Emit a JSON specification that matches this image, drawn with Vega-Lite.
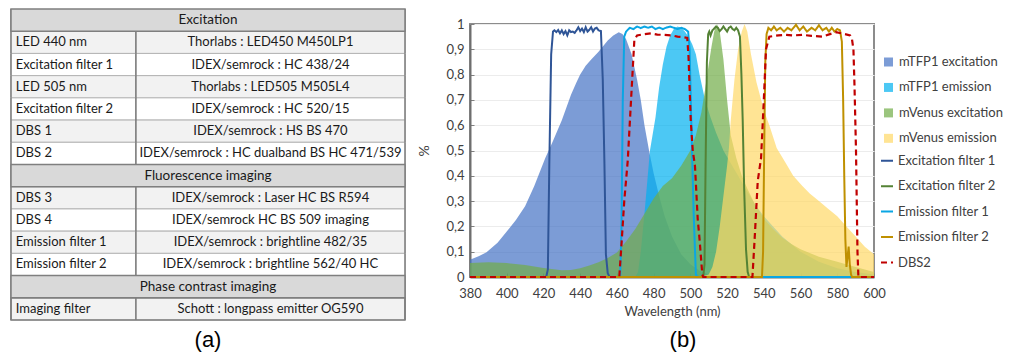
{
  "$schema": "https://vega.github.io/schema/vega-lite/v6.json",
  "background": "white",
  "padding": {"left": 10, "top": 8, "right": 0, "bottom": 0},
  "config": {
    "font": "Lato",
    "concat": {"spacing": 10},
    "title": {"font": "Liberation Sans", "fontWeight": "normal", "color": "#000000"}
  },
  "datasets": {
    "table": [
      {"row": 1, "kind": "header", "section": "Excitation", "item": "Excitation", "product": ""},
      {"row": 2, "kind": "item", "section": "Excitation", "item": "LED 440 nm", "product": "Thorlabs : LED450 M450LP1"},
      {"row": 3, "kind": "item", "section": "Excitation", "item": "Excitation filter 1", "product": "IDEX/semrock : HC 438/24"},
      {"row": 4, "kind": "item", "section": "Excitation", "item": "LED 505 nm", "product": "Thorlabs : LED505 M505L4"},
      {"row": 5, "kind": "item", "section": "Excitation", "item": "Excitation filter 2", "product": "IDEX/semrock  : HC 520/15"},
      {"row": 6, "kind": "item", "section": "Excitation", "item": "DBS 1", "product": "IDEX/semrock : HS BS 470"},
      {"row": 7, "kind": "item", "section": "Excitation", "item": "DBS 2", "product": "IDEX/semrock : HC dualband BS HC 471/539"},
      {"row": 8, "kind": "header", "section": "Fluorescence imaging", "item": "Fluorescence imaging", "product": ""},
      {"row": 9, "kind": "item", "section": "Fluorescence imaging", "item": "DBS 3", "product": "IDEX/semrock : Laser HC BS R594"},
      {"row": 10, "kind": "item", "section": "Fluorescence imaging", "item": "DBS 4", "product": "IDEX/semrock  HC BS 509 imaging"},
      {"row": 11, "kind": "item", "section": "Fluorescence imaging", "item": "Emission filter 1", "product": "IDEX/semrock : brightline 482/35"},
      {"row": 12, "kind": "item", "section": "Fluorescence imaging", "item": "Emission filter 2", "product": "IDEX/semrock : brightline 562/40 HC"},
      {"row": 13, "kind": "header", "section": "Phase contrast imaging", "item": "Phase contrast imaging", "product": ""},
      {"row": 14, "kind": "item", "section": "Phase contrast imaging", "item": "Imaging filter", "product": "Schott : longpass emitter OG590"}
    ],
    "spectra": [
      {"series": "mTFP1 excitation", "wl": 380, "value": 0.068},
      {"series": "mTFP1 excitation", "wl": 385, "value": 0.083},
      {"series": "mTFP1 excitation", "wl": 389, "value": 0.098},
      {"series": "mTFP1 excitation", "wl": 395, "value": 0.135},
      {"series": "mTFP1 excitation", "wl": 400, "value": 0.18},
      {"series": "mTFP1 excitation", "wl": 405, "value": 0.225},
      {"series": "mTFP1 excitation", "wl": 410, "value": 0.28},
      {"series": "mTFP1 excitation", "wl": 415, "value": 0.36},
      {"series": "mTFP1 excitation", "wl": 421, "value": 0.47},
      {"series": "mTFP1 excitation", "wl": 425, "value": 0.535},
      {"series": "mTFP1 excitation", "wl": 430, "value": 0.62},
      {"series": "mTFP1 excitation", "wl": 435, "value": 0.72},
      {"series": "mTFP1 excitation", "wl": 438, "value": 0.77},
      {"series": "mTFP1 excitation", "wl": 440, "value": 0.8},
      {"series": "mTFP1 excitation", "wl": 443, "value": 0.835},
      {"series": "mTFP1 excitation", "wl": 446, "value": 0.86},
      {"series": "mTFP1 excitation", "wl": 450, "value": 0.89},
      {"series": "mTFP1 excitation", "wl": 455, "value": 0.935},
      {"series": "mTFP1 excitation", "wl": 458, "value": 0.955},
      {"series": "mTFP1 excitation", "wl": 461, "value": 0.967},
      {"series": "mTFP1 excitation", "wl": 463, "value": 0.96},
      {"series": "mTFP1 excitation", "wl": 465, "value": 0.94},
      {"series": "mTFP1 excitation", "wl": 468, "value": 0.88},
      {"series": "mTFP1 excitation", "wl": 471, "value": 0.78},
      {"series": "mTFP1 excitation", "wl": 473, "value": 0.7},
      {"series": "mTFP1 excitation", "wl": 475, "value": 0.6},
      {"series": "mTFP1 excitation", "wl": 477.5, "value": 0.5},
      {"series": "mTFP1 excitation", "wl": 480, "value": 0.41},
      {"series": "mTFP1 excitation", "wl": 483, "value": 0.32},
      {"series": "mTFP1 excitation", "wl": 486, "value": 0.24},
      {"series": "mTFP1 excitation", "wl": 490, "value": 0.16},
      {"series": "mTFP1 excitation", "wl": 495, "value": 0.09},
      {"series": "mTFP1 excitation", "wl": 500, "value": 0.05},
      {"series": "mTFP1 excitation", "wl": 505, "value": 0.025},
      {"series": "mTFP1 excitation", "wl": 510, "value": 0.01},
      {"series": "mTFP1 excitation", "wl": 520, "value": 0},
      {"series": "mTFP1 excitation", "wl": 600, "value": 0},

      {"series": "mTFP1 emission", "wl": 380, "value": 0},
      {"series": "mTFP1 emission", "wl": 470, "value": 0},
      {"series": "mTFP1 emission", "wl": 471.5, "value": 0.02},
      {"series": "mTFP1 emission", "wl": 473, "value": 0.1},
      {"series": "mTFP1 emission", "wl": 475, "value": 0.25},
      {"series": "mTFP1 emission", "wl": 478, "value": 0.5},
      {"series": "mTFP1 emission", "wl": 481, "value": 0.63},
      {"series": "mTFP1 emission", "wl": 483, "value": 0.75},
      {"series": "mTFP1 emission", "wl": 485, "value": 0.84},
      {"series": "mTFP1 emission", "wl": 487, "value": 0.91},
      {"series": "mTFP1 emission", "wl": 489, "value": 0.955},
      {"series": "mTFP1 emission", "wl": 491, "value": 0.98},
      {"series": "mTFP1 emission", "wl": 493, "value": 0.99},
      {"series": "mTFP1 emission", "wl": 495, "value": 0.985},
      {"series": "mTFP1 emission", "wl": 497, "value": 0.97},
      {"series": "mTFP1 emission", "wl": 499, "value": 0.95},
      {"series": "mTFP1 emission", "wl": 501, "value": 0.92},
      {"series": "mTFP1 emission", "wl": 503, "value": 0.88},
      {"series": "mTFP1 emission", "wl": 505, "value": 0.8},
      {"series": "mTFP1 emission", "wl": 508, "value": 0.7},
      {"series": "mTFP1 emission", "wl": 511, "value": 0.63},
      {"series": "mTFP1 emission", "wl": 514, "value": 0.57},
      {"series": "mTFP1 emission", "wl": 518, "value": 0.5},
      {"series": "mTFP1 emission", "wl": 522, "value": 0.45},
      {"series": "mTFP1 emission", "wl": 526, "value": 0.4},
      {"series": "mTFP1 emission", "wl": 530, "value": 0.35},
      {"series": "mTFP1 emission", "wl": 535, "value": 0.29},
      {"series": "mTFP1 emission", "wl": 540, "value": 0.24},
      {"series": "mTFP1 emission", "wl": 550, "value": 0.16},
      {"series": "mTFP1 emission", "wl": 560, "value": 0.1},
      {"series": "mTFP1 emission", "wl": 570, "value": 0.06},
      {"series": "mTFP1 emission", "wl": 580, "value": 0.035},
      {"series": "mTFP1 emission", "wl": 590, "value": 0.02},
      {"series": "mTFP1 emission", "wl": 600, "value": 0.01},

      {"series": "mVenus excitation", "wl": 380, "value": 0.055},
      {"series": "mVenus excitation", "wl": 390, "value": 0.058},
      {"series": "mVenus excitation", "wl": 400, "value": 0.055},
      {"series": "mVenus excitation", "wl": 410, "value": 0.047},
      {"series": "mVenus excitation", "wl": 420, "value": 0.036},
      {"series": "mVenus excitation", "wl": 430, "value": 0.027},
      {"series": "mVenus excitation", "wl": 435, "value": 0.028},
      {"series": "mVenus excitation", "wl": 440, "value": 0.035},
      {"series": "mVenus excitation", "wl": 445, "value": 0.045},
      {"series": "mVenus excitation", "wl": 450, "value": 0.058},
      {"series": "mVenus excitation", "wl": 455, "value": 0.075},
      {"series": "mVenus excitation", "wl": 460, "value": 0.097},
      {"series": "mVenus excitation", "wl": 465, "value": 0.14},
      {"series": "mVenus excitation", "wl": 470, "value": 0.19},
      {"series": "mVenus excitation", "wl": 475, "value": 0.25},
      {"series": "mVenus excitation", "wl": 480, "value": 0.31},
      {"series": "mVenus excitation", "wl": 485, "value": 0.36},
      {"series": "mVenus excitation", "wl": 490, "value": 0.39},
      {"series": "mVenus excitation", "wl": 495, "value": 0.44},
      {"series": "mVenus excitation", "wl": 500, "value": 0.5},
      {"series": "mVenus excitation", "wl": 503, "value": 0.56},
      {"series": "mVenus excitation", "wl": 506, "value": 0.65},
      {"series": "mVenus excitation", "wl": 508, "value": 0.74},
      {"series": "mVenus excitation", "wl": 510, "value": 0.84},
      {"series": "mVenus excitation", "wl": 511.5, "value": 0.91},
      {"series": "mVenus excitation", "wl": 513, "value": 0.97},
      {"series": "mVenus excitation", "wl": 514.5, "value": 1.0},
      {"series": "mVenus excitation", "wl": 516, "value": 0.97},
      {"series": "mVenus excitation", "wl": 518, "value": 0.86},
      {"series": "mVenus excitation", "wl": 520, "value": 0.7},
      {"series": "mVenus excitation", "wl": 522, "value": 0.56},
      {"series": "mVenus excitation", "wl": 525, "value": 0.47},
      {"series": "mVenus excitation", "wl": 528, "value": 0.4},
      {"series": "mVenus excitation", "wl": 531, "value": 0.35},
      {"series": "mVenus excitation", "wl": 535, "value": 0.29},
      {"series": "mVenus excitation", "wl": 540, "value": 0.23},
      {"series": "mVenus excitation", "wl": 545, "value": 0.19},
      {"series": "mVenus excitation", "wl": 550, "value": 0.155},
      {"series": "mVenus excitation", "wl": 555, "value": 0.13},
      {"series": "mVenus excitation", "wl": 560, "value": 0.11},
      {"series": "mVenus excitation", "wl": 570, "value": 0.08},
      {"series": "mVenus excitation", "wl": 580, "value": 0.06},
      {"series": "mVenus excitation", "wl": 590, "value": 0.04},
      {"series": "mVenus excitation", "wl": 600, "value": 0.02},

      {"series": "mVenus emission", "wl": 380, "value": 0},
      {"series": "mVenus emission", "wl": 505, "value": 0},
      {"series": "mVenus emission", "wl": 510, "value": 0.01},
      {"series": "mVenus emission", "wl": 512, "value": 0.04},
      {"series": "mVenus emission", "wl": 514, "value": 0.1},
      {"series": "mVenus emission", "wl": 516, "value": 0.2},
      {"series": "mVenus emission", "wl": 518, "value": 0.32},
      {"series": "mVenus emission", "wl": 520, "value": 0.44},
      {"series": "mVenus emission", "wl": 521, "value": 0.51},
      {"series": "mVenus emission", "wl": 522, "value": 0.62},
      {"series": "mVenus emission", "wl": 524, "value": 0.78},
      {"series": "mVenus emission", "wl": 526, "value": 0.9},
      {"series": "mVenus emission", "wl": 528, "value": 0.97},
      {"series": "mVenus emission", "wl": 529.5, "value": 1.0},
      {"series": "mVenus emission", "wl": 531, "value": 0.97},
      {"series": "mVenus emission", "wl": 533, "value": 0.88},
      {"series": "mVenus emission", "wl": 536, "value": 0.77},
      {"series": "mVenus emission", "wl": 540, "value": 0.66},
      {"series": "mVenus emission", "wl": 543, "value": 0.6},
      {"series": "mVenus emission", "wl": 547, "value": 0.51},
      {"series": "mVenus emission", "wl": 552, "value": 0.45},
      {"series": "mVenus emission", "wl": 556, "value": 0.4},
      {"series": "mVenus emission", "wl": 561, "value": 0.36},
      {"series": "mVenus emission", "wl": 565, "value": 0.33},
      {"series": "mVenus emission", "wl": 570, "value": 0.3},
      {"series": "mVenus emission", "wl": 575, "value": 0.27},
      {"series": "mVenus emission", "wl": 580, "value": 0.24},
      {"series": "mVenus emission", "wl": 585, "value": 0.2},
      {"series": "mVenus emission", "wl": 590, "value": 0.16},
      {"series": "mVenus emission", "wl": 595, "value": 0.12},
      {"series": "mVenus emission", "wl": 600, "value": 0.09}
    ],
    "filters": [
      {"filter": "Excitation filter 1", "wl": 380, "value": 0},
      {"filter": "Excitation filter 1", "wl": 421.5, "value": 0},
      {"filter": "Excitation filter 1", "wl": 422.4, "value": 0.03},
      {"filter": "Excitation filter 1", "wl": 423.2, "value": 0.45},
      {"filter": "Excitation filter 1", "wl": 424.2, "value": 0.88},
      {"filter": "Excitation filter 1", "wl": 425.2, "value": 0.97},
      {"filter": "Excitation filter 1", "wl": 426, "value": 0.975},
      {"filter": "Excitation filter 1", "wl": 427, "value": 0.968},
      {"filter": "Excitation filter 1", "wl": 428, "value": 0.976},
      {"filter": "Excitation filter 1", "wl": 429, "value": 0.963},
      {"filter": "Excitation filter 1", "wl": 430, "value": 0.975},
      {"filter": "Excitation filter 1", "wl": 431, "value": 0.96},
      {"filter": "Excitation filter 1", "wl": 432, "value": 0.972},
      {"filter": "Excitation filter 1", "wl": 433, "value": 0.955},
      {"filter": "Excitation filter 1", "wl": 434, "value": 0.975},
      {"filter": "Excitation filter 1", "wl": 435, "value": 0.968},
      {"filter": "Excitation filter 1", "wl": 436, "value": 0.97},
      {"filter": "Excitation filter 1", "wl": 437, "value": 0.965},
      {"filter": "Excitation filter 1", "wl": 438, "value": 0.975},
      {"filter": "Excitation filter 1", "wl": 439, "value": 0.987},
      {"filter": "Excitation filter 1", "wl": 440, "value": 0.972},
      {"filter": "Excitation filter 1", "wl": 441, "value": 0.982},
      {"filter": "Excitation filter 1", "wl": 442, "value": 0.968},
      {"filter": "Excitation filter 1", "wl": 443, "value": 0.987},
      {"filter": "Excitation filter 1", "wl": 444, "value": 0.97},
      {"filter": "Excitation filter 1", "wl": 445, "value": 0.977},
      {"filter": "Excitation filter 1", "wl": 446, "value": 0.987},
      {"filter": "Excitation filter 1", "wl": 447, "value": 0.97},
      {"filter": "Excitation filter 1", "wl": 448, "value": 0.982},
      {"filter": "Excitation filter 1", "wl": 449, "value": 0.985},
      {"filter": "Excitation filter 1", "wl": 450, "value": 0.975},
      {"filter": "Excitation filter 1", "wl": 451.3, "value": 0.972},
      {"filter": "Excitation filter 1", "wl": 452.3, "value": 0.78},
      {"filter": "Excitation filter 1", "wl": 453.2, "value": 0.45},
      {"filter": "Excitation filter 1", "wl": 454, "value": 0.09},
      {"filter": "Excitation filter 1", "wl": 455, "value": 0.015},
      {"filter": "Excitation filter 1", "wl": 456, "value": 0},
      {"filter": "Excitation filter 1", "wl": 600, "value": 0},

      {"filter": "Excitation filter 2", "wl": 380, "value": 0},
      {"filter": "Excitation filter 2", "wl": 507, "value": 0},
      {"filter": "Excitation filter 2", "wl": 507.7, "value": 0.05},
      {"filter": "Excitation filter 2", "wl": 508.3, "value": 0.45},
      {"filter": "Excitation filter 2", "wl": 509, "value": 0.85},
      {"filter": "Excitation filter 2", "wl": 509.7, "value": 0.96},
      {"filter": "Excitation filter 2", "wl": 510.3, "value": 0.97},
      {"filter": "Excitation filter 2", "wl": 511, "value": 0.955},
      {"filter": "Excitation filter 2", "wl": 512, "value": 0.975},
      {"filter": "Excitation filter 2", "wl": 513, "value": 0.982},
      {"filter": "Excitation filter 2", "wl": 514, "value": 0.99},
      {"filter": "Excitation filter 2", "wl": 515, "value": 0.985},
      {"filter": "Excitation filter 2", "wl": 516, "value": 0.972},
      {"filter": "Excitation filter 2", "wl": 517, "value": 0.98},
      {"filter": "Excitation filter 2", "wl": 518, "value": 0.99},
      {"filter": "Excitation filter 2", "wl": 519, "value": 0.98},
      {"filter": "Excitation filter 2", "wl": 520, "value": 0.97},
      {"filter": "Excitation filter 2", "wl": 521, "value": 0.985},
      {"filter": "Excitation filter 2", "wl": 522, "value": 0.99},
      {"filter": "Excitation filter 2", "wl": 523, "value": 0.98},
      {"filter": "Excitation filter 2", "wl": 524, "value": 0.975},
      {"filter": "Excitation filter 2", "wl": 525, "value": 0.985},
      {"filter": "Excitation filter 2", "wl": 526, "value": 0.975},
      {"filter": "Excitation filter 2", "wl": 527, "value": 0.95},
      {"filter": "Excitation filter 2", "wl": 527.8, "value": 0.8},
      {"filter": "Excitation filter 2", "wl": 528.5, "value": 0.62},
      {"filter": "Excitation filter 2", "wl": 529.3, "value": 0.35},
      {"filter": "Excitation filter 2", "wl": 530.3, "value": 0.11},
      {"filter": "Excitation filter 2", "wl": 531.2, "value": 0.02},
      {"filter": "Excitation filter 2", "wl": 532, "value": 0},
      {"filter": "Excitation filter 2", "wl": 600, "value": 0},

      {"filter": "Emission filter 1", "wl": 380, "value": 0},
      {"filter": "Emission filter 1", "wl": 461.8, "value": 0},
      {"filter": "Emission filter 1", "wl": 462.5, "value": 0.2},
      {"filter": "Emission filter 1", "wl": 463.2, "value": 0.7},
      {"filter": "Emission filter 1", "wl": 464, "value": 0.95},
      {"filter": "Emission filter 1", "wl": 465, "value": 0.97},
      {"filter": "Emission filter 1", "wl": 467, "value": 0.985},
      {"filter": "Emission filter 1", "wl": 469, "value": 0.98},
      {"filter": "Emission filter 1", "wl": 471, "value": 0.99},
      {"filter": "Emission filter 1", "wl": 473, "value": 0.984},
      {"filter": "Emission filter 1", "wl": 475, "value": 0.99},
      {"filter": "Emission filter 1", "wl": 477, "value": 0.985},
      {"filter": "Emission filter 1", "wl": 479, "value": 0.99},
      {"filter": "Emission filter 1", "wl": 481, "value": 0.98},
      {"filter": "Emission filter 1", "wl": 483, "value": 0.986},
      {"filter": "Emission filter 1", "wl": 485, "value": 0.98},
      {"filter": "Emission filter 1", "wl": 487, "value": 0.986},
      {"filter": "Emission filter 1", "wl": 489, "value": 0.99},
      {"filter": "Emission filter 1", "wl": 491, "value": 0.985},
      {"filter": "Emission filter 1", "wl": 493, "value": 0.98},
      {"filter": "Emission filter 1", "wl": 495, "value": 0.985},
      {"filter": "Emission filter 1", "wl": 497, "value": 0.98},
      {"filter": "Emission filter 1", "wl": 498.8, "value": 0.97},
      {"filter": "Emission filter 1", "wl": 499.6, "value": 0.9},
      {"filter": "Emission filter 1", "wl": 500.4, "value": 0.64},
      {"filter": "Emission filter 1", "wl": 501.8, "value": 0.25},
      {"filter": "Emission filter 1", "wl": 503, "value": 0.01},
      {"filter": "Emission filter 1", "wl": 504, "value": 0},
      {"filter": "Emission filter 1", "wl": 600, "value": 0},

      {"filter": "Emission filter 2", "wl": 380, "value": 0},
      {"filter": "Emission filter 2", "wl": 539, "value": 0},
      {"filter": "Emission filter 2", "wl": 539.6, "value": 0.1},
      {"filter": "Emission filter 2", "wl": 540.2, "value": 0.5},
      {"filter": "Emission filter 2", "wl": 540.8, "value": 0.85},
      {"filter": "Emission filter 2", "wl": 541.5, "value": 0.96},
      {"filter": "Emission filter 2", "wl": 542.5, "value": 0.985},
      {"filter": "Emission filter 2", "wl": 544, "value": 0.975},
      {"filter": "Emission filter 2", "wl": 545.5, "value": 0.99},
      {"filter": "Emission filter 2", "wl": 547, "value": 0.975},
      {"filter": "Emission filter 2", "wl": 549, "value": 0.985},
      {"filter": "Emission filter 2", "wl": 551, "value": 0.97},
      {"filter": "Emission filter 2", "wl": 553, "value": 0.985},
      {"filter": "Emission filter 2", "wl": 555, "value": 0.975},
      {"filter": "Emission filter 2", "wl": 557.5, "value": 0.997},
      {"filter": "Emission filter 2", "wl": 559.5, "value": 0.975},
      {"filter": "Emission filter 2", "wl": 561.5, "value": 0.99},
      {"filter": "Emission filter 2", "wl": 563.5, "value": 0.97},
      {"filter": "Emission filter 2", "wl": 566, "value": 0.985},
      {"filter": "Emission filter 2", "wl": 568, "value": 0.975},
      {"filter": "Emission filter 2", "wl": 570, "value": 0.995},
      {"filter": "Emission filter 2", "wl": 572, "value": 0.975},
      {"filter": "Emission filter 2", "wl": 574, "value": 0.985},
      {"filter": "Emission filter 2", "wl": 575.5, "value": 0.97},
      {"filter": "Emission filter 2", "wl": 577, "value": 0.985},
      {"filter": "Emission filter 2", "wl": 578.5, "value": 0.97},
      {"filter": "Emission filter 2", "wl": 580, "value": 0.98},
      {"filter": "Emission filter 2", "wl": 581.5, "value": 0.975},
      {"filter": "Emission filter 2", "wl": 582.5, "value": 0.93},
      {"filter": "Emission filter 2", "wl": 583.2, "value": 0.7},
      {"filter": "Emission filter 2", "wl": 583.8, "value": 0.4},
      {"filter": "Emission filter 2", "wl": 584.4, "value": 0.15},
      {"filter": "Emission filter 2", "wl": 585, "value": 0.04},
      {"filter": "Emission filter 2", "wl": 585.6, "value": 0.08},
      {"filter": "Emission filter 2", "wl": 586.2, "value": 0.12},
      {"filter": "Emission filter 2", "wl": 586.8, "value": 0.05},
      {"filter": "Emission filter 2", "wl": 587.5, "value": 0.01},
      {"filter": "Emission filter 2", "wl": 588, "value": 0},
      {"filter": "Emission filter 2", "wl": 600, "value": 0},

      {"filter": "DBS2", "wl": 380, "value": 0},
      {"filter": "DBS2", "wl": 461.3, "value": 0},
      {"filter": "DBS2", "wl": 462.5, "value": 0.13},
      {"filter": "DBS2", "wl": 464, "value": 0.3},
      {"filter": "DBS2", "wl": 465.9, "value": 0.46},
      {"filter": "DBS2", "wl": 467.7, "value": 0.7},
      {"filter": "DBS2", "wl": 469.5, "value": 0.937},
      {"filter": "DBS2", "wl": 471, "value": 0.955},
      {"filter": "DBS2", "wl": 475, "value": 0.96},
      {"filter": "DBS2", "wl": 478.5, "value": 0.963},
      {"filter": "DBS2", "wl": 482, "value": 0.958},
      {"filter": "DBS2", "wl": 486, "value": 0.957},
      {"filter": "DBS2", "wl": 490, "value": 0.955},
      {"filter": "DBS2", "wl": 493, "value": 0.95},
      {"filter": "DBS2", "wl": 496, "value": 0.948},
      {"filter": "DBS2", "wl": 498.3, "value": 0.945},
      {"filter": "DBS2", "wl": 499, "value": 0.87},
      {"filter": "DBS2", "wl": 500.2, "value": 0.62},
      {"filter": "DBS2", "wl": 501.3, "value": 0.5},
      {"filter": "DBS2", "wl": 502.5, "value": 0.44},
      {"filter": "DBS2", "wl": 504, "value": 0.23},
      {"filter": "DBS2", "wl": 505, "value": 0.15},
      {"filter": "DBS2", "wl": 506.5, "value": 0.01},
      {"filter": "DBS2", "wl": 507, "value": 0},
      {"filter": "DBS2", "wl": 533.8, "value": 0},
      {"filter": "DBS2", "wl": 535, "value": 0.15},
      {"filter": "DBS2", "wl": 536.7, "value": 0.38},
      {"filter": "DBS2", "wl": 538.5, "value": 0.47},
      {"filter": "DBS2", "wl": 540, "value": 0.7},
      {"filter": "DBS2", "wl": 541.2, "value": 0.9},
      {"filter": "DBS2", "wl": 543, "value": 0.95},
      {"filter": "DBS2", "wl": 548, "value": 0.955},
      {"filter": "DBS2", "wl": 552, "value": 0.957},
      {"filter": "DBS2", "wl": 556, "value": 0.955},
      {"filter": "DBS2", "wl": 561, "value": 0.957},
      {"filter": "DBS2", "wl": 566, "value": 0.953},
      {"filter": "DBS2", "wl": 572, "value": 0.95},
      {"filter": "DBS2", "wl": 576, "value": 0.96},
      {"filter": "DBS2", "wl": 579.3, "value": 0.968},
      {"filter": "DBS2", "wl": 583, "value": 0.962},
      {"filter": "DBS2", "wl": 587, "value": 0.955},
      {"filter": "DBS2", "wl": 588, "value": 0.94},
      {"filter": "DBS2", "wl": 588.8, "value": 0.9},
      {"filter": "DBS2", "wl": 589.4, "value": 0.75},
      {"filter": "DBS2", "wl": 590.2, "value": 0.5},
      {"filter": "DBS2", "wl": 591, "value": 0.1},
      {"filter": "DBS2", "wl": 591.5, "value": 0},
      {"filter": "DBS2", "wl": 600, "value": 0}
    ]
  },
  "hconcat": [
    {
      "width": 394,
      "height": 296,
      "data": {"name": "table"},
      "view": {"stroke": null},
      "title": {"text": "(a)", "orient": "bottom", "fontSize": 22, "offset": 9, "anchor": "middle", "frame": "group"},
      "encoding": {
        "y": {"field": "row", "type": "ordinal", "axis": null, "scale": {"range": [-15, 296], "paddingInner": 0, "paddingOuter": 0}}
      },
      "layer": [
        {
          "transform": [
            {"filter": "datum.kind == 'item'"},
            {"window": [{"op": "row_number", "as": "k"}], "groupby": ["section"], "sort": [{"field": "row"}]}
          ],
          "mark": {"type": "rect", "stroke": "#b4b4b4", "strokeWidth": 1},
          "encoding": {
            "x": {"datum": 0, "type": "quantitative", "scale": {"domain": [0, 1]}, "axis": null},
            "x2": {"datum": 0.317},
            "fill": {"condition": {"test": "datum.k % 2 == 1", "value": "#f2f2f2"}, "value": "#ffffff"}
          }
        },
        {
          "transform": [
            {"filter": "datum.kind == 'item'"},
            {"window": [{"op": "row_number", "as": "k"}], "groupby": ["section"], "sort": [{"field": "row"}]}
          ],
          "mark": {"type": "rect", "stroke": "#b4b4b4", "strokeWidth": 1},
          "encoding": {
            "x": {"datum": 0.317, "type": "quantitative", "scale": {"domain": [0, 1]}, "axis": null},
            "x2": {"datum": 1},
            "fill": {"condition": {"test": "datum.k % 2 == 1", "value": "#f2f2f2"}, "value": "#ffffff"}
          }
        },
        {
          "transform": [{"filter": "datum.kind == 'item'"}],
          "mark": {"type": "rect", "fill": "#5a5a5a"},
          "encoding": {
            "x": {"datum": 0.3158, "type": "quantitative", "scale": {"domain": [0, 1]}, "axis": null},
            "x2": {"datum": 0.3184}
          }
        },
        {
          "mark": {"type": "rect", "fill": "#7f7f7f"},
          "encoding": {
            "x": {"datum": -0.002, "type": "quantitative", "scale": {"domain": [0, 1]}, "axis": null},
            "x2": {"datum": 0.0018}
          }
        },
        {
          "mark": {"type": "rect", "fill": "#7f7f7f"},
          "encoding": {
            "x": {"datum": 0.9982, "type": "quantitative", "scale": {"domain": [0, 1]}, "axis": null},
            "x2": {"datum": 1.002}
          }
        },
        {
          "transform": [{"filter": "datum.kind == 'header' || datum.row == 14"}],
          "mark": {"type": "rect", "fill": "#d9d9d9", "stroke": "#7f7f7f", "strokeWidth": 1.5},
          "encoding": {
            "x": {"datum": 0, "type": "quantitative", "scale": {"domain": [0, 1]}, "axis": null},
            "x2": {"datum": 1},
            "fillOpacity": {"condition": {"test": "datum.kind == 'header'", "value": 1}, "value": 0}
          }
        },
        {
          "transform": [{"filter": "datum.kind == 'header'"}],
          "mark": {"type": "text", "align": "center", "baseline": "middle", "fontSize": 13.5, "color": "#1a1a1a"},
          "encoding": {
            "x": {"datum": 0.5, "type": "quantitative", "scale": {"domain": [0, 1]}, "axis": null},
            "text": {"field": "item"}
          }
        },
        {
          "transform": [{"filter": "datum.kind == 'item'"}],
          "mark": {"type": "text", "align": "left", "baseline": "middle", "fontSize": 13, "color": "#1a1a1a"},
          "encoding": {
            "x": {"datum": 0.012, "type": "quantitative", "scale": {"domain": [0, 1]}, "axis": null},
            "text": {"field": "item"}
          }
        },
        {
          "transform": [{"filter": "datum.kind == 'item'"}],
          "mark": {"type": "text", "align": "center", "baseline": "middle", "fontSize": 13, "color": "#1a1a1a"},
          "encoding": {
            "x": {"datum": 0.6585, "type": "quantitative", "scale": {"domain": [0, 1]}, "axis": null},
            "text": {"field": "product"}
          }
        }
      ]
    },
    {
      "width": 404,
      "height": 253,
      "title": {"text": "(b)", "orient": "bottom", "fontSize": 22, "offset": 12, "anchor": "middle", "frame": "group", "dx": 11},
      "view": {"stroke": "#8c8c8c", "strokeWidth": 2},
      "encoding": {
        "x": {
          "field": "wl", "type": "quantitative",
          "scale": {"domain": [380, 600], "nice": false, "zero": false},
          "axis": {
            "title": "Wavelength (nm)",
            "values": [380, 400, 420, 440, 460, 480, 500, 520, 540, 560, 580, 600],
            "grid": false, "labelFlush": false, "labelOverlap": false,
            "domainColor": "#6e6e6e", "domainWidth": 2,
            "tickColor": "#7f7f7f", "tickSize": -4, "labelPadding": 14,
            "labelFontSize": 13, "labelColor": "#404040",
            "titleFontSize": 13, "titleFontWeight": "normal", "titleColor": "#404040", "titlePadding": 5
          }
        },
        "y": {
          "field": "value", "type": "quantitative", "stack": null,
          "scale": {"domain": [0, 1], "nice": false},
          "axis": {
            "title": "%",
            "values": [0, 0.1, 0.2, 0.3, 0.4, 0.5, 0.6, 0.7, 0.8, 0.9, 1],
            "labelExpr": "replace(toString(datum.value), '.', ',')",
            "grid": true, "gridColor": "#ececec", "gridWidth": 1,
            "labelFlush": false, "labelOverlap": false,
            "domainColor": "#6e6e6e", "domainWidth": 2,
            "tickColor": "#7f7f7f", "tickSize": -4, "labelPadding": 10,
            "labelFontSize": 13, "labelColor": "#404040",
            "titleFontSize": 14, "titleFontWeight": "normal", "titleColor": "#404040", "titlePadding": 14
          }
        }
      },
      "layer": [
        {
          "data": {"name": "spectra"},
          "transform": [{"filter": "datum.series == 'mTFP1 excitation'"}],
          "mark": {"type": "area", "fillOpacity": 0.7},
          "encoding": {
            "fill": {
              "field": "series", "type": "nominal",
              "scale": {"domain": ["mTFP1 excitation", "mTFP1 emission", "mVenus excitation", "mVenus emission"], "range": ["#4472c4", "#00b0f0", "#70ad47", "#ffd966"]},
              "legend": {"orient": "none", "legendX": 871, "legendY": 31.5, "title": null, "padding": 0, "symbolType": "square", "symbolSize": 81, "symbolOpacity": 0.7, "symbolStrokeWidth": 0, "labelFontSize": 13, "labelColor": "#404040", "rowPadding": 11.45, "labelOffset": 4}
            }
          }
        },
        {
          "data": {"name": "spectra"},
          "transform": [{"filter": "datum.series == 'mTFP1 emission'"}],
          "mark": {"type": "area", "fillOpacity": 0.7},
          "encoding": {"fill": {"field": "series", "type": "nominal"}}
        },
        {
          "data": {"name": "spectra"},
          "transform": [{"filter": "datum.series == 'mVenus excitation'"}],
          "mark": {"type": "area", "fillOpacity": 0.7},
          "encoding": {"fill": {"field": "series", "type": "nominal"}}
        },
        {
          "data": {"name": "spectra"},
          "transform": [{"filter": "datum.series == 'mVenus emission'"}],
          "mark": {"type": "area", "fillOpacity": 0.7},
          "encoding": {"fill": {"field": "series", "type": "nominal"}}
        },
        {
          "data": {"name": "filters"},
          "transform": [{"filter": "datum.filter != 'DBS2'"}],
          "mark": {"type": "line", "strokeWidth": 2},
          "encoding": {
            "stroke": {
              "field": "filter", "type": "nominal",
              "scale": {"domain": ["Excitation filter 1", "Excitation filter 2", "Emission filter 1", "Emission filter 2", "DBS2"], "range": ["#2f5597", "#548235", "#0aa6e4", "#bf9000", "#c00000"]},
              "legend": {"orient": "none", "legendX": 869, "legendY": 129.7, "title": null, "padding": 0, "symbolType": "stroke", "symbolSize": 144, "symbolStrokeWidth": 2, "labelFontSize": 13, "labelColor": "#404040", "rowPadding": 11.45, "labelOffset": 4}
            },
            "strokeDash": {
              "field": "filter", "type": "nominal",
              "scale": {"domain": ["Excitation filter 1", "Excitation filter 2", "Emission filter 1", "Emission filter 2", "DBS2"], "range": [[1, 0], [1, 0], [1, 0], [1, 0], [6, 4]]},
              "legend": {"orient": "none", "legendX": 869, "legendY": 129.7, "title": null, "padding": 0, "symbolType": "stroke", "symbolSize": 144, "symbolStrokeWidth": 2, "labelFontSize": 13, "labelColor": "#404040", "rowPadding": 11.45, "labelOffset": 4}
            }
          }
        },
        {
          "data": {"name": "filters"},
          "transform": [{"filter": "datum.filter == 'DBS2'"}],
          "mark": {"type": "line", "strokeWidth": 2.2},
          "encoding": {
            "stroke": {"field": "filter", "type": "nominal"},
            "strokeDash": {"field": "filter", "type": "nominal"}
          }
        }
      ]
    }
  ]
}
